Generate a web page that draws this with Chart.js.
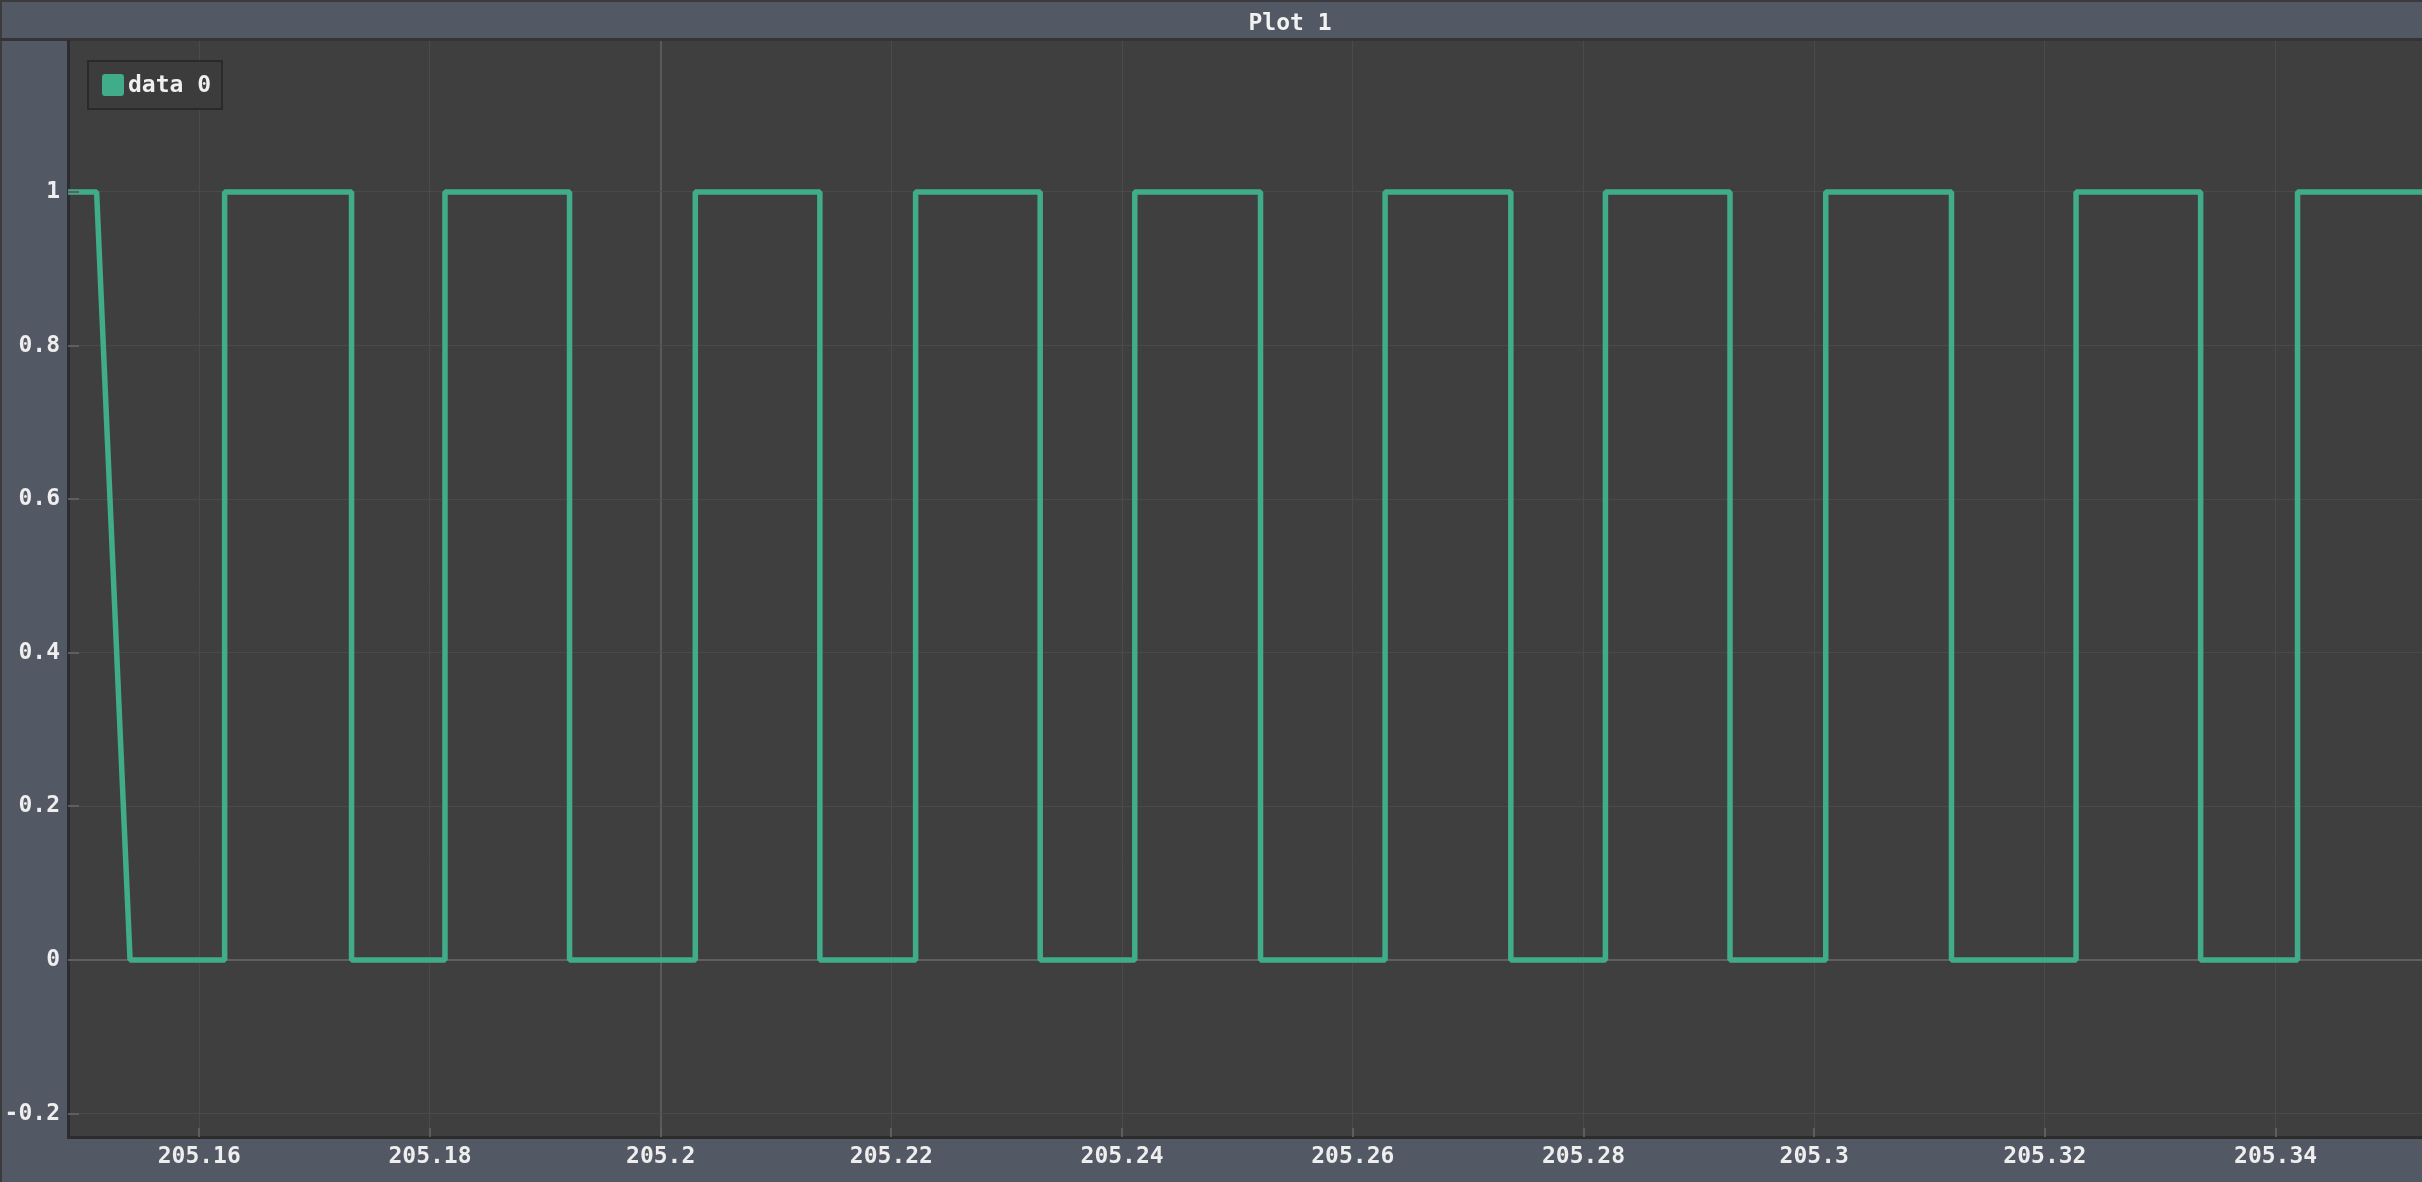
<!DOCTYPE html>
<html><head><meta charset="utf-8">
<script src="https://cdn.jsdelivr.net/npm/chart.js@4.4.1/dist/chart.umd.min.js"></script>
<style>
html,body{margin:0;padding:0;background:#535865;overflow:hidden;}
#wrap{position:relative;width:2422px;height:1182px;overflow:hidden;}
canvas{position:absolute;left:0;top:0;}
#title{position:absolute;left:0;top:9px;width:2580px;height:28px;line-height:28px;text-align:center;color:#f2f2f2;font:bold 23px 'DejaVu Sans Mono',monospace;}
</style></head><body>
<div id="wrap"><canvas id="c" width="2422" height="1182"></canvas><div id="title">Plot 1</div></div>
<script>
// ---- data ----
const seriesLabel = 'data 0';
const xValues = [205.1486, 205.1511, 205.1540, 205.1622, 205.1622, 205.1732, 205.1732, 205.1813, 205.1813, 205.1921, 205.1921,
  205.2030, 205.2030, 205.2138, 205.2138, 205.2221, 205.2221, 205.2329, 205.2329, 205.2411, 205.2411,
  205.2520, 205.2520, 205.2628, 205.2628, 205.2737, 205.2737, 205.2819, 205.2819, 205.2927, 205.2927,
  205.3010, 205.3010, 205.3119, 205.3119, 205.3227, 205.3227, 205.3335, 205.3335, 205.3419, 205.3419, 205.3540];
const yValues = [1, 1, 0, 0, 1, 1, 0, 0, 1, 1, 0,
  0, 1, 1, 0, 0, 1, 1, 0, 0, 1,
  1, 0, 0, 1, 1, 0, 0, 1, 1, 0,
  0, 1, 1, 0, 0, 1, 1, 0, 0, 1, 1];
const xTicks = [205.16, 205.18, 205.20, 205.22, 205.24, 205.26, 205.28, 205.30, 205.32, 205.34];
const xTickLabels = ['205.16', '205.18', '205.2', '205.22', '205.24', '205.26', '205.28', '205.3', '205.32', '205.34'];
const yTicks = [-0.2, 0, 0.2, 0.4, 0.6, 0.8, 1];
const yTickLabels = ['-0.2', '0', '0.2', '0.4', '0.6', '0.8', '1'];
const xRange = [205.14862, 205.35269];
const yRange = [-0.2305, 1.1966];

// ---- styling ----
const GREEN = '#40ac89';
const FONT = "'DejaVu Sans Mono', monospace";
const tickFont = {family: FONT, size: 23, weight: 'bold'};

const framePlugin = {
  id: 'frame',
  beforeDraw(chart) {
    const {ctx, chartArea: a, width, height} = chart;
    ctx.save();
    ctx.fillStyle = '#535865';
    ctx.fillRect(0, 0, width, height);
    ctx.fillStyle = '#3b3b3e';
    ctx.fillRect(0, 0, width, 2);
    ctx.fillRect(0, 0, 2, height);
    ctx.fillStyle = '#343438';
    ctx.fillRect(0, a.top - 3, width, 3);
    ctx.fillStyle = '#3f3f3f';
    ctx.fillRect(a.left, a.top, a.right - a.left, a.bottom - a.top);
    ctx.restore();
  },
  afterDatasetsDraw(chart) {
    const {ctx, chartArea: a, scales: {x, y}} = chart;
    ctx.save();
    ctx.strokeStyle = '#5e5e5e';
    ctx.lineWidth = 2;
    ctx.beginPath();
    yTicks.forEach(v => { const py = Math.round(y.getPixelForValue(v)); ctx.moveTo(a.left, py); ctx.lineTo(a.left + 11, py); });
    xTicks.forEach(v => { const px = Math.round(x.getPixelForValue(v)); ctx.moveTo(px, a.bottom); ctx.lineTo(px, a.bottom - 9); });
    ctx.stroke();
    ctx.restore();
  },
  afterDraw(chart) {
    const {ctx, chartArea: a} = chart;
    const ds = chart.data.datasets[0];
    ctx.save();
    const bx = a.left + 20, by = a.top + 20, bw = 134, bh = 48;
    ctx.fillStyle = '#3c3c3c';
    ctx.fillRect(bx, by, bw, bh);
    ctx.strokeStyle = '#2a2a2a';
    ctx.lineWidth = 2;
    ctx.strokeRect(bx, by, bw, bh);
    ctx.fillStyle = ds.borderColor;
    ctx.beginPath();
    ctx.roundRect(bx + 14, by + 13, 22, 22, 3);
    ctx.fill();
    ctx.fillStyle = '#f0f0f0';
    ctx.font = 'bold 23px ' + FONT;
    ctx.textBaseline = 'middle';
    ctx.textAlign = 'left';
    ctx.fillText(ds.label, bx + 40, by + 25);
    ctx.restore();
  }
};

new Chart(document.getElementById('c'), {
  type: 'line',
  data: {
    datasets: [{
      label: seriesLabel,
      data: xValues.map((xv, i) => ({x: xv, y: yValues[i]})),
      borderColor: GREEN,
      backgroundColor: GREEN,
      borderWidth: 5.5,
      borderJoinStyle: 'bevel',
      pointRadius: 0,
      tension: 0,
      fill: false
    }]
  },
  options: {
    responsive: false,
    animation: false,
    layout: {padding: {top: 41, left: 0, right: 0, bottom: 0}},
    plugins: {legend: {display: false}, tooltip: {enabled: false}, title: {display: false}},
    scales: {
      x: {
        type: 'linear', min: xRange[0], max: xRange[1],
        afterBuildTicks: s => { s.ticks = xTicks.map(v => ({value: v})); },
        afterFit: s => { s.height = 45; },
        ticks: {callback: (v, i) => xTickLabels[i], color: '#eeeeee', font: tickFont, padding: 6, maxRotation: 0, autoSkip: false},
        grid: {
          drawTicks: false,
          color: c => (c.tick && Math.abs(c.tick.value - 205.2) < 1e-9) ? '#5a5a5a' : '#4a4a4a',
          lineWidth: c => (c.tick && Math.abs(c.tick.value - 205.2) < 1e-9) ? 2 : 1
        },
        border: {display: true, color: '#2c2c2c', width: 3}
      },
      y: {
        type: 'linear', min: yRange[0], max: yRange[1],
        afterBuildTicks: s => { s.ticks = yTicks.map(v => ({value: v})); },
        afterFit: s => { s.width = 68; },
        ticks: {callback: (v, i) => yTickLabels[i], color: '#eeeeee', font: tickFont, padding: 8, autoSkip: false},
        grid: {
          drawTicks: false,
          color: c => (c.tick && c.tick.value === 0) ? '#5f5f5f' : '#4a4a4a',
          lineWidth: c => (c.tick && c.tick.value === 0) ? 2 : 1
        },
        border: {display: true, color: '#2c2c2c', width: 3}
      }
    }
  },
  plugins: [framePlugin]
});
</script>
</body></html>
